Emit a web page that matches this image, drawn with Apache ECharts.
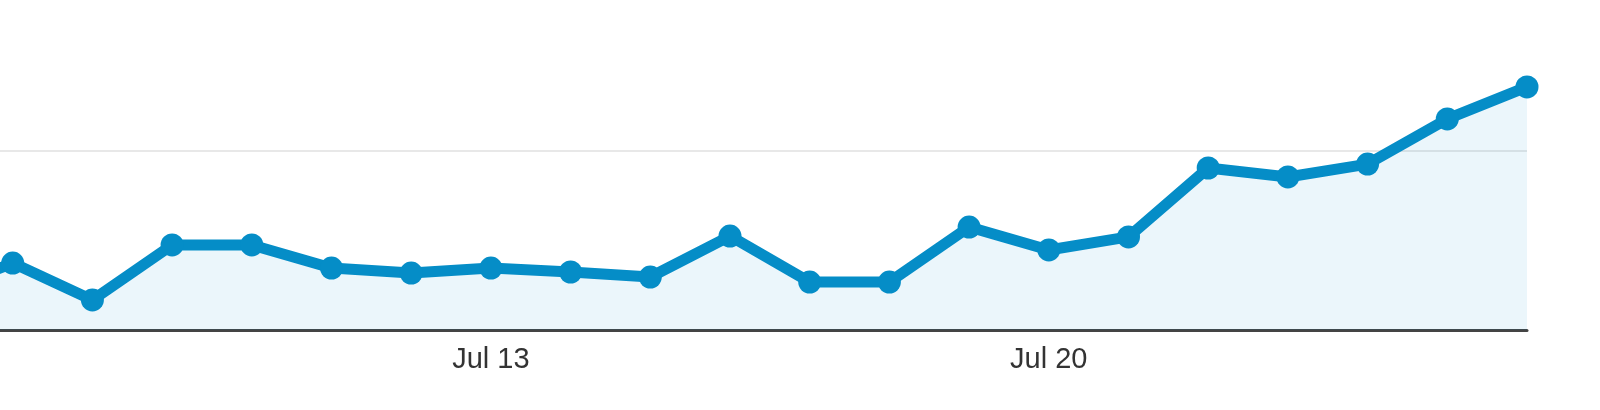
<!DOCTYPE html>
<html>
<head>
<meta charset="utf-8">
<script src="https://cdn.jsdelivr.net/npm/echarts@6/dist/echarts.min.js"></script>
<style>
html,body{margin:0;padding:0;background:#fff;overflow:hidden;width:1600px;height:410px;position:relative;}
#chart{position:absolute;left:-67px;top:-28px;width:1667px;height:438px;}
</style>
</head>
<body>
<div id="chart"></div>
<script>
const categories = ["Jul 6","Jul 7","Jul 8","Jul 9","Jul 10","Jul 11","Jul 12","Jul 13","Jul 14","Jul 15","Jul 16","Jul 17","Jul 18","Jul 19","Jul 20","Jul 21","Jul 22","Jul 23","Jul 24","Jul 25","Jul 26"];
const values = [20, 37.4, 16.8, 47.5, 47.5, 34.6, 31.8, 34.6, 32.4, 29.6, 52.5, 26.8, 26.8, 57.5, 44.7, 52, 90.5, 85.5, 92.7, 117.9, 135.8];
const yMin = 0, yMax = 200, yInterval = 100;

const chart = echarts.init(document.getElementById('chart'), null, {renderer:'canvas'});
chart.setOption({
  animation: false,
  backgroundColor: '#ffffff',
  grid: {left: 0, right: 73, top: 0, bottom: 80, containLabel: false, outerBoundsMode: 'none'},
  xAxis: {
    type: 'category',
    data: categories,
    boundaryGap: false,
    axisLine: {show: true, lineStyle: {color: '#444', width: 3}},
    axisTick: {show: false},
    axisLabel: {
      interval: function(i){ return i % 7 === 0; },
      color: '#333',
      fontFamily: 'Liberation Sans, Arial, sans-serif',
      fontSize: 29,
      margin: 15
    },
    splitLine: {show: false}
  },
  yAxis: {
    type: 'value',
    min: yMin, max: yMax, interval: yInterval,
    axisLine: {show: false},
    axisTick: {show: false},
    axisLabel: {show: false},
    splitLine: {show: true, lineStyle: {color: '#e8e8e8', width: 2}}
  },
  series: [{
    type: 'line',
    data: values,
    symbol: 'circle',
    symbolSize: 23,
    showAllSymbol: true,
    lineStyle: {color: '#058DC7', width: 11},
    itemStyle: {color: '#058DC7'},
    areaStyle: {color: 'rgba(5,141,199,0.11)'},
    emphasis: {disabled: true}
  }]
});
</script>
</body>
</html>
